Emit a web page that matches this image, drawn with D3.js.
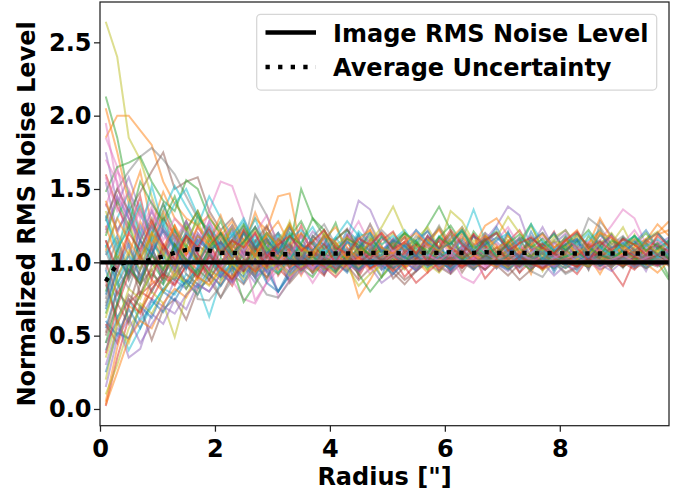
<!DOCTYPE html>
<html>
<head>
<meta charset="utf-8">
<script src="https://cdn.jsdelivr.net/npm/d3@7"></script>
<style>
  body { margin: 0; background: #fff; }
  svg { display: block; font-family: "DejaVu Sans", sans-serif; font-weight: bold; }
</style>
</head>
<body>
<svg class="chart" width="688" height="497"></svg>
<script>
// radii of the annuli (arcsec)
const radius = [0.1, 0.3, 0.5, 0.7, 0.9, 1.1, 1.3, 1.5, 1.7, 1.9,
  2.1, 2.3, 2.5, 2.7, 2.9, 3.1, 3.3, 3.5, 3.7, 3.9,
  4.1, 4.3, 4.5, 4.7, 4.9, 5.1, 5.3, 5.5, 5.7, 5.9,
  6.1, 6.3, 6.5, 6.7, 6.9, 7.1, 7.3, 7.5, 7.7, 7.9,
  8.1, 8.3, 8.5, 8.7, 8.9, 9.1, 9.3, 9.5, 9.7, 9.9]

const noiseLevel = 1.0

const avgUncertainty = [0.87, 0.99, 1.00, 1.00, 1.02, 1.04, 1.065, 1.085, 1.09, 1.08,
  1.065, 1.065, 1.06, 1.055, 1.055, 1.055, 1.055, 1.055, 1.06, 1.06,
  1.06, 1.06, 1.06, 1.065, 1.065, 1.065, 1.06, 1.065, 1.065, 1.065,
  1.07, 1.065, 1.065, 1.07, 1.065, 1.065, 1.065, 1.065, 1.06, 1.065,
  1.06, 1.06, 1.06, 1.06, 1.06, 1.06, 1.06, 1.06, 1.06, 1.06]

// one normalized noise profile per source
const profiles = [
  [0.55,0.82,0.95,0.88,1.12,1.05,0.93,1.18,1.02,0.96,1.14,0.92,1.21,1.03,0.88,1.10,1.26,0.97,1.08,1.17,0.94,1.05,1.19,1.01,0.90,1.12,1.20,0.98,1.07,1.15,0.93,1.04,1.18,1.09,0.96,1.13,1.02,1.21,1.06,0.95,1.10,1.16,1.00,1.08,1.19,0.97,1.05,1.14,1.03,1.11],
  [1.85,2.00,2.00,1.90,1.80,1.55,1.40,1.30,1.25,1.32,1.18,1.28,1.10,1.34,1.15,1.05,1.24,1.12,0.98,1.20,1.02,1.13,1.06,1.22,0.96,1.08,1.17,1.01,1.12,0.94,1.06,1.19,1.03,1.10,0.99,1.15,1.07,0.92,1.13,1.04,1.18,1.00,1.09,1.23,1.05,0.97,1.11,1.16,1.02,1.08],
  [2.13,1.85,1.45,1.20,1.05,1.32,1.10,1.25,0.98,1.15,1.06,1.24,0.92,1.15,1.08,0.99,1.20,1.05,0.93,1.12,1.27,1.04,0.95,1.16,1.09,1.00,1.13,1.06,0.95,1.17,1.09,1.02,1.21,1.11,0.97,1.05,1.14,1.26,1.08,0.99,1.12,1.04,1.18,1.07,0.96,1.10,1.15,1.01,1.06,0.90],
  [0.02,0.35,0.62,0.78,0.85,0.92,0.88,1.02,0.95,1.08,0.98,0.87,1.09,0.96,1.15,0.91,1.03,1.12,0.94,1.06,0.99,1.18,0.90,1.04,1.11,0.97,1.08,1.02,1.16,1.05,0.93,1.10,1.19,0.99,1.07,1.03,1.14,0.96,1.09,1.21,1.04,1.00,1.13,1.06,0.95,0.84,1.02,1.08,1.12,1.05],
  [0.30,0.55,0.48,0.62,0.75,0.70,0.88,0.82,0.95,1.02,0.90,1.08,0.97,0.86,1.05,1.14,0.96,1.10,0.92,1.06,1.00,1.16,1.42,1.36,1.18,1.05,0.98,1.12,1.07,0.95,1.04,1.11,0.99,1.15,1.25,1.38,1.32,1.10,0.98,1.08,1.02,1.14,0.97,1.09,1.04,1.17,1.06,0.94,1.11,1.03],
  [1.40,1.22,1.35,1.48,1.62,1.75,1.50,1.55,1.58,1.35,1.22,1.30,1.15,1.08,1.24,1.12,1.03,1.19,1.09,0.96,1.13,1.06,0.92,1.10,1.04,1.16,0.98,1.07,1.13,1.02,1.09,0.93,1.05,1.12,1.01,1.20,1.06,0.97,1.10,1.03,1.15,1.08,0.95,1.11,1.18,1.02,1.07,0.99,1.14,1.06],
  [1.85,1.65,1.30,1.12,0.98,1.08,1.20,1.05,1.14,1.35,1.55,1.52,1.30,1.10,1.18,1.04,0.94,1.08,1.15,1.02,0.96,1.09,1.03,1.14,0.95,1.06,1.12,1.01,1.18,0.99,1.08,1.14,1.03,0.95,1.10,1.05,1.16,1.02,1.09,0.97,1.13,1.04,1.10,1.15,1.25,1.36,1.30,1.12,1.03,1.09],
  [1.30,1.50,1.62,1.72,1.78,1.70,1.60,1.45,1.30,1.22,1.15,1.25,1.10,1.46,1.32,1.12,1.04,1.20,1.08,0.97,1.13,1.02,0.94,1.09,1.01,1.14,0.97,1.06,1.11,1.00,1.08,0.96,1.04,1.17,1.02,1.09,0.93,1.07,1.12,1.00,1.05,1.10,0.95,1.28,1.18,1.06,0.98,1.13,1.02,1.08],
  [2.64,2.40,1.85,1.70,1.45,1.22,1.10,1.28,1.05,1.15,0.98,1.10,1.22,1.02,1.14,0.94,1.07,1.18,1.00,1.11,1.04,0.95,1.09,1.16,1.01,1.07,0.96,1.14,1.03,1.09,1.20,1.04,0.98,1.12,1.06,1.15,1.01,1.08,0.94,1.10,1.17,1.03,1.07,0.99,1.13,1.05,1.19,1.02,1.09,0.97],
  [0.40,0.62,0.40,0.55,0.70,0.82,0.78,0.92,0.85,0.63,0.88,0.96,1.05,0.90,1.10,0.97,1.14,0.93,1.06,0.99,1.12,0.95,1.03,1.08,0.98,1.04,1.11,1.15,1.02,1.08,0.96,1.13,1.05,1.19,1.01,1.09,0.97,1.06,1.14,1.03,1.10,0.94,1.07,1.12,1.00,1.16,1.04,0.98,1.10,1.05],
  [1.05,1.18,0.92,1.25,1.08,0.86,1.15,0.98,1.20,1.07,0.93,1.12,1.03,0.89,1.10,1.20,0.97,1.05,1.15,0.92,1.08,1.01,1.19,0.96,1.04,1.13,0.99,1.07,1.02,1.16,0.95,1.09,1.12,1.01,1.06,1.21,0.98,1.04,1.10,0.93,1.08,1.15,1.03,1.11,0.97,1.05,1.14,1.08,1.00,1.06],
  [0.05,0.42,0.70,0.66,0.88,0.80,0.95,0.87,1.02,0.92,0.85,1.00,0.94,1.10,0.89,0.98,1.06,0.91,1.08,0.97,0.93,1.03,0.76,0.88,1.02,0.95,1.08,1.01,0.93,1.10,1.15,0.99,1.04,1.12,1.02,0.96,1.07,1.13,1.00,1.05,0.97,1.09,1.04,0.92,1.06,1.11,1.03,0.98,1.08,1.14],
  [1.48,1.65,1.68,1.72,1.55,1.42,1.35,1.56,1.50,1.30,1.20,1.12,1.25,1.08,1.17,1.02,1.10,1.50,1.30,1.18,1.12,1.05,1.14,1.03,1.09,0.99,1.08,1.13,1.04,1.10,1.01,1.07,1.12,1.05,0.97,1.09,1.04,1.16,1.02,1.06,1.11,0.98,1.05,1.14,1.03,1.08,1.00,1.12,1.06,1.10],
  [0.58,0.45,0.72,0.80,0.75,0.90,0.84,0.98,0.88,1.05,0.95,0.84,1.00,0.92,1.08,0.96,0.88,1.04,0.98,0.91,1.07,1.00,0.93,1.05,0.97,1.03,0.90,0.99,1.07,0.94,1.02,0.96,1.05,0.89,0.98,1.04,0.93,1.01,0.97,1.06,0.99,0.92,1.03,0.98,1.08,1.00,0.95,1.04,0.99,1.02],
  [1.75,1.40,1.58,1.35,1.22,1.40,1.15,1.28,1.10,1.20,1.04,1.15,1.22,1.06,0.98,1.12,1.05,1.18,1.00,1.09,1.03,0.96,1.10,1.15,1.02,1.08,1.00,1.12,1.05,1.02,1.09,1.15,1.04,0.99,1.07,1.11,1.03,0.97,1.08,1.05,1.13,1.02,0.96,1.06,1.10,1.01,1.07,1.04,0.99,1.09],
  [0.85,0.62,0.78,0.70,0.47,0.68,0.75,0.61,0.82,0.88,0.76,0.92,0.85,0.97,0.90,1.02,0.86,0.95,1.00,0.92,1.05,0.98,0.88,0.96,1.02,0.93,0.85,0.94,1.01,0.97,0.92,1.00,0.95,1.03,0.98,0.91,0.99,1.04,0.96,1.00,0.93,0.97,1.02,0.95,0.99,1.03,0.96,1.00,0.97,1.01],
  [1.20,1.45,1.10,0.95,1.18,1.02,0.90,1.08,0.97,1.12,1.00,0.88,0.75,0.72,0.86,0.95,1.04,0.92,1.00,0.96,1.07,0.99,0.93,1.05,1.01,0.97,1.08,0.94,1.02,0.98,1.04,0.90,0.86,0.97,1.03,0.99,1.06,1.01,0.96,1.04,1.00,1.07,1.03,0.98,1.05,1.01,0.97,1.04,1.00,1.02],
  [0.70,0.95,0.82,1.05,0.90,1.12,0.98,1.22,1.05,0.93,0.76,0.88,1.00,1.10,0.94,1.06,0.97,1.12,1.01,0.95,1.09,1.02,0.98,1.13,1.03,0.96,1.06,1.10,1.22,1.08,1.00,1.11,1.05,1.14,0.99,1.07,1.03,0.94,0.90,1.01,1.09,0.98,1.12,1.15,1.04,0.96,1.08,1.01,1.10,0.99],
  [0.10,0.30,0.55,0.68,0.80,0.72,0.49,0.78,0.90,0.84,0.95,1.02,0.88,0.97,1.06,0.93,1.00,0.95,1.08,0.99,0.92,1.03,0.97,1.05,0.90,1.01,0.96,1.04,0.99,0.93,1.02,1.06,0.97,1.00,1.05,0.95,1.01,0.98,1.03,0.96,1.04,1.00,0.97,1.02,0.99,1.05,1.01,0.96,1.03,1.00],
  [1.10,1.30,1.48,1.32,1.20,1.35,1.52,1.38,1.25,1.45,1.30,1.18,1.28,1.12,1.05,1.20,1.10,1.02,1.15,1.07,1.00,1.09,1.04,0.97,1.08,1.03,1.12,1.00,1.06,1.02,1.10,1.04,0.99,1.07,1.01,1.05,1.09,1.02,0.98,1.06,1.03,1.08,1.00,1.04,1.07,1.02,0.99,1.05,1.01,1.03],
  [0.95,0.72,1.00,0.85,1.10,0.92,1.02,0.86,0.96,1.08,0.90,1.00,0.94,1.05,0.98,0.80,0.92,1.03,0.96,1.01,0.93,1.06,0.99,1.03,0.95,1.00,1.04,0.97,1.01,1.07,0.98,1.02,0.95,1.03,1.00,0.96,1.05,0.99,1.02,0.97,1.03,1.00,1.06,0.98,1.01,1.04,0.97,1.02,0.99,1.05],
  [2.05,1.75,1.40,1.62,1.25,1.48,1.30,1.22,1.35,1.18,1.10,1.24,1.15,1.30,1.22,1.45,1.47,1.08,1.15,1.04,1.12,1.06,1.00,1.09,1.03,1.07,1.13,1.02,1.05,1.15,1.08,1.04,1.00,1.06,1.10,1.02,1.07,1.03,0.99,1.05,1.08,1.02,1.12,1.30,1.16,1.04,1.06,1.09,1.02,1.05],
  [0.65,0.88,0.60,0.78,0.92,0.85,1.00,0.82,0.95,0.88,1.03,0.97,0.73,0.85,0.98,0.92,1.05,0.96,0.90,1.02,0.99,1.08,0.95,1.03,1.10,1.02,0.98,1.12,1.25,1.38,1.22,1.05,0.98,1.02,0.96,1.04,1.00,0.95,1.03,0.98,1.06,1.01,0.97,1.03,0.99,1.05,1.02,0.96,1.00,0.88],
  [1.60,1.38,1.22,1.45,1.10,1.30,1.18,1.05,1.24,1.12,0.98,1.15,1.06,1.20,1.02,1.10,0.96,1.07,1.13,1.01,1.05,0.98,1.11,1.04,1.08,1.00,1.06,1.02,1.15,1.23,1.10,1.03,1.07,0.99,1.04,1.08,1.01,1.05,1.10,1.03,0.98,1.06,1.02,1.07,1.00,1.04,1.08,1.01,1.05,1.03],
  [0.45,0.60,0.35,0.41,0.65,0.58,0.75,0.68,0.85,0.80,0.92,0.86,0.98,0.90,0.95,1.03,0.88,0.97,1.02,0.93,0.99,0.94,1.04,0.97,0.86,0.92,1.00,0.95,1.03,0.98,0.93,1.01,0.97,1.05,0.99,0.94,1.02,0.96,1.00,0.91,0.98,0.95,1.03,0.99,0.94,1.01,0.97,1.03,0.98,1.00],
  [1.15,0.90,1.05,0.78,0.98,1.10,0.95,1.18,1.02,0.91,1.08,1.00,0.94,1.06,0.99,1.12,1.03,0.96,1.05,0.98,1.02,1.08,0.94,1.00,1.05,0.89,0.97,1.03,1.06,0.99,1.04,0.98,1.01,1.08,1.02,0.97,1.04,1.00,0.95,1.03,0.99,1.06,1.01,0.97,1.02,1.05,0.99,1.03,1.00,1.02],
  [1.95,1.52,1.30,1.18,1.35,1.10,1.25,1.02,1.15,1.08,0.96,1.12,1.05,0.98,1.09,0.76,0.88,1.02,0.95,1.06,1.00,0.97,1.04,0.92,1.03,1.08,0.99,1.05,1.01,0.96,1.04,1.10,1.02,0.98,1.06,1.01,0.97,1.04,1.00,1.07,1.02,0.99,1.05,1.01,0.97,1.03,1.06,1.00,1.04,1.01],
  [0.75,1.10,0.88,1.02,0.80,0.95,1.08,0.92,0.85,1.00,0.93,1.06,0.97,0.90,0.78,0.76,0.87,0.98,1.04,0.96,1.01,0.94,1.07,0.99,1.03,0.96,1.00,1.05,0.98,1.02,0.95,1.03,0.99,1.06,1.00,0.97,1.04,1.01,0.96,1.03,0.98,1.05,1.02,0.97,1.04,1.00,0.98,1.06,1.01,0.99],
  [1.35,1.12,1.28,1.05,1.20,0.95,1.10,1.02,0.90,1.08,1.15,0.98,1.05,0.93,1.10,1.02,1.08,0.96,1.04,1.12,1.00,1.06,0.98,1.03,1.09,1.01,0.95,1.05,1.10,1.24,1.14,1.02,1.06,1.00,1.04,1.08,1.02,0.98,1.05,1.01,1.07,1.03,0.99,1.04,1.08,1.02,1.00,1.05,1.03,0.98],
  [0.90,0.62,0.75,0.60,0.70,0.82,0.90,0.85,0.97,1.05,0.92,1.00,0.95,1.08,0.99,0.93,1.03,1.12,1.06,1.00,1.04,0.98,1.08,1.02,0.97,1.05,1.00,1.06,1.03,0.99,1.07,1.15,1.36,1.15,1.04,0.99,1.05,1.01,1.08,1.03,0.98,1.04,1.00,1.06,1.02,0.97,1.05,1.01,0.99,1.04],
  [0.25,0.52,0.48,0.70,0.62,0.80,0.74,0.88,0.83,0.95,0.90,0.98,0.86,1.02,0.94,0.80,0.91,0.99,1.04,0.95,1.00,0.93,1.06,0.98,1.02,0.96,1.01,0.94,1.03,0.99,0.97,1.05,1.00,0.95,1.02,0.98,1.04,0.99,1.01,0.96,1.03,1.00,0.97,1.05,1.01,0.98,1.02,0.99,1.04,1.00],
  [1.25,1.02,1.20,1.38,1.15,1.05,1.25,1.12,1.00,1.18,1.08,0.95,1.12,1.04,1.16,1.02,1.09,1.00,1.06,0.97,1.10,1.03,1.07,0.99,1.04,1.11,1.02,1.06,1.00,1.08,1.03,0.98,1.05,1.10,1.02,1.06,0.99,1.04,1.07,1.01,1.05,0.98,1.03,1.09,1.02,1.06,1.10,1.15,1.26,1.18],
  [0.80,1.05,0.90,1.15,1.00,0.88,1.12,0.96,1.05,0.92,1.10,1.02,0.98,1.08,1.20,1.12,1.03,0.97,1.06,1.00,0.94,1.03,0.92,0.80,0.90,0.99,1.04,0.96,1.01,1.07,0.99,1.03,0.96,1.05,1.00,1.02,0.97,1.04,0.99,1.06,1.01,0.98,1.03,1.00,1.05,0.97,1.02,0.99,1.04,1.01],
  [1.00,0.78,0.95,0.85,1.05,0.90,1.12,0.97,1.03,0.88,1.00,1.08,0.94,1.02,0.96,1.10,1.01,0.95,1.07,1.00,0.96,1.04,0.99,1.06,1.02,0.94,1.00,1.05,0.98,1.03,0.97,1.08,1.01,1.18,1.12,1.00,0.97,1.04,1.01,1.06,1.00,0.97,1.03,1.07,1.01,1.04,0.98,1.02,1.05,1.00],
  [1.55,1.20,1.38,1.05,1.25,1.12,0.95,1.18,1.06,1.28,1.10,1.22,1.04,1.15,0.99,1.08,1.13,1.02,1.07,0.97,1.05,1.10,1.01,1.06,0.98,1.04,1.09,1.00,1.05,1.02,1.07,0.98,1.03,1.08,1.01,0.96,1.04,1.10,1.02,1.05,0.99,1.03,1.07,1.01,1.04,1.00,1.06,1.02,0.98,1.04],
  [0.50,0.72,0.58,0.85,0.95,0.80,0.92,1.00,0.90,1.06,0.96,0.89,1.02,0.97,1.08,1.00,0.93,1.05,0.98,1.03,0.95,1.00,1.06,0.99,1.02,0.96,0.88,0.94,1.00,1.04,0.98,1.02,0.96,1.05,1.00,0.97,0.88,0.95,1.03,0.99,1.02,0.97,1.04,1.00,0.98,1.03,0.99,1.05,1.01,0.98],
  [1.38,1.62,1.50,1.30,1.42,1.22,1.15,1.05,1.20,1.10,0.98,1.12,1.04,0.74,0.86,1.00,0.90,0.98,0.86,0.98,1.05,0.96,1.02,1.07,0.99,1.04,0.96,1.01,1.06,0.98,1.03,0.99,1.05,1.01,0.96,1.03,1.07,1.00,1.04,0.97,1.02,1.06,1.00,0.95,1.03,0.99,1.05,1.01,1.04,0.98],
  [1.08,0.85,1.00,0.92,0.80,0.95,0.88,1.02,0.75,0.74,0.84,0.95,1.00,0.92,1.04,0.97,1.02,0.94,1.00,1.06,0.98,1.03,0.96,1.01,1.05,0.99,1.03,0.97,1.00,0.94,1.04,1.00,0.96,1.02,0.99,1.05,1.01,0.97,1.03,1.00,0.92,0.96,1.02,0.99,1.04,1.01,0.97,1.03,1.00,1.02],
  [0.35,0.60,0.45,0.72,0.65,0.80,0.92,0.86,0.78,0.95,0.88,0.99,0.92,1.05,0.96,1.00,0.91,0.97,1.03,0.95,1.00,0.97,0.84,0.92,0.98,1.04,0.97,1.01,0.95,1.02,0.99,1.04,0.97,1.00,1.03,0.96,1.01,0.98,1.04,1.00,0.96,1.02,0.99,1.03,0.97,1.01,1.05,0.99,1.02,1.00],
  [1.32,1.05,1.40,1.18,1.52,1.25,1.40,1.50,1.32,1.20,1.12,1.25,1.08,1.18,1.04,1.12,1.20,1.06,1.00,1.09,1.03,1.14,1.07,1.00,1.05,1.10,1.02,1.06,0.99,1.04,1.08,1.01,1.05,1.10,1.03,0.98,1.06,1.02,1.08,1.01,1.04,1.07,1.00,1.03,1.06,1.02,1.09,1.00,1.03,1.05],
  [0.60,0.50,0.68,0.55,0.74,0.66,0.80,0.87,0.78,0.92,0.84,0.97,0.90,1.02,0.86,0.80,0.95,1.00,0.93,1.04,0.97,1.01,0.95,1.03,0.98,0.92,1.00,1.05,0.97,1.01,0.95,1.02,0.98,1.04,0.99,0.95,1.02,0.98,1.03,1.00,0.96,1.01,1.04,0.98,1.02,0.99,1.03,0.97,1.01,1.00],
  [0.03,0.25,0.48,0.60,0.55,0.72,0.82,0.76,0.90,0.85,0.96,0.90,1.02,0.94,0.99,1.05,0.97,1.01,0.93,1.00,1.06,0.98,1.03,0.95,1.01,1.04,0.97,1.00,1.03,0.96,1.02,0.98,1.05,1.00,0.97,1.03,0.99,1.02,0.95,0.99,1.03,1.00,0.97,1.04,1.01,0.98,1.02,0.99,0.93,1.01],
  [1.18,1.42,1.25,1.55,1.40,1.28,1.45,1.22,1.35,1.15,1.28,1.10,1.20,1.05,1.14,1.08,1.02,1.12,1.04,0.98,1.07,1.02,1.10,1.05,0.99,1.06,1.01,1.09,1.03,1.00,1.06,1.02,1.08,1.03,0.99,1.05,1.10,1.02,1.06,1.00,1.04,1.07,1.01,1.05,1.02,1.08,1.03,0.99,1.05,1.02],
  [0.88,0.58,0.75,0.65,0.82,0.92,0.85,0.98,0.90,1.04,0.96,0.88,1.00,0.94,1.06,0.98,1.02,0.95,1.01,0.97,0.90,0.99,1.04,0.96,1.00,1.05,0.97,0.86,0.93,1.00,1.03,0.97,1.01,0.95,1.02,0.98,1.04,0.99,0.96,1.02,1.00,0.97,1.03,0.99,1.01,0.97,1.04,1.00,0.98,1.02],
  [0.15,0.48,0.62,0.45,0.58,0.70,0.65,0.78,0.85,0.80,0.92,0.87,0.96,1.02,0.93,0.98,1.04,0.95,1.00,0.96,1.03,0.99,0.94,1.01,0.97,1.04,1.00,0.95,1.02,0.99,1.05,1.01,0.97,1.03,0.98,1.01,0.96,1.04,1.00,0.97,1.02,0.99,1.04,1.01,0.97,1.03,1.00,0.96,1.02,0.99],
  [1.28,1.50,1.35,1.15,1.30,1.08,1.22,1.00,1.12,1.05,1.18,1.08,0.99,1.10,1.03,1.15,1.06,1.00,1.08,1.02,1.10,1.04,0.98,1.07,1.01,1.05,1.12,1.03,0.98,1.06,1.02,1.08,1.00,1.04,1.10,1.02,1.06,0.99,1.03,1.07,1.01,1.05,1.09,1.02,0.98,1.04,1.07,1.01,1.05,1.03],
  [1.70,1.55,1.20,1.35,1.08,1.22,1.00,1.15,1.05,0.94,1.10,1.02,1.14,0.97,1.06,1.00,1.09,1.03,0.96,1.05,1.01,1.08,0.98,1.04,1.00,1.06,1.02,0.97,1.05,1.01,1.07,0.99,1.03,0.97,1.04,1.00,1.06,1.02,0.98,1.03,1.07,1.00,1.04,0.99,1.02,1.05,1.00,1.03,1.06,1.01],
  [0.72,0.98,1.15,0.90,1.05,0.96,1.10,1.00,0.92,1.06,0.98,1.12,1.02,0.95,1.08,1.01,0.97,1.06,1.00,1.04,0.97,1.02,1.07,0.99,1.03,0.98,1.05,1.00,1.04,0.97,1.02,1.06,0.99,1.03,1.00,1.05,0.98,1.02,1.06,1.00,1.03,0.99,1.04,1.01,0.97,1.03,1.00,1.05,1.02,0.99],
  [0.20,0.58,0.82,0.75,0.95,1.05,0.90,1.12,1.00,1.18,1.08,1.25,1.12,0.98,1.20,1.10,1.28,1.05,1.15,1.22,1.02,1.18,1.09,1.26,1.12,1.20,1.08,1.16,1.24,1.10,1.35,1.28,1.14,1.20,1.07,1.18,1.12,1.25,1.09,1.17,1.22,1.11,1.06,1.19,1.13,1.24,1.08,1.16,1.21,1.10],
  [1.12,0.85,1.05,0.95,1.15,1.02,1.22,1.10,0.98,1.16,1.05,1.20,1.12,1.30,1.08,1.18,1.02,1.14,1.24,1.10,1.17,1.06,1.21,1.13,1.08,1.15,1.22,1.10,1.05,1.18,1.12,1.24,1.08,1.14,1.20,1.06,1.16,1.11,1.02,1.13,1.19,1.09,1.15,1.22,1.07,1.12,1.18,1.10,1.04,1.16],
  [0.68,0.95,1.12,0.88,1.05,1.25,1.10,0.95,1.15,1.08,1.20,1.02,1.14,1.24,1.06,1.16,1.10,0.99,1.18,1.12,1.05,1.22,1.14,1.08,1.17,1.10,1.03,1.15,1.21,1.09,1.14,1.06,1.18,1.12,1.24,1.10,1.04,1.16,1.11,1.20,1.08,1.15,1.02,1.12,1.19,1.07,1.13,1.22,1.10,1.14],
  [1.42,1.20,1.05,1.28,1.12,1.35,1.18,1.06,1.25,1.15,1.32,1.10,1.22,1.05,1.18,1.28,1.12,1.20,1.08,1.16,1.24,1.10,1.02,1.15,1.20,1.12,1.18,1.06,1.14,1.22,1.09,1.17,1.11,1.25,1.30,1.18,1.08,1.14,1.20,1.10,1.16,1.05,1.13,1.21,1.09,1.15,1.12,1.07,1.19,1.22],
  [0.88,1.08,1.25,1.02,1.18,1.40,1.22,1.10,1.32,1.18,1.05,1.15,1.26,1.10,1.20,1.08,1.17,1.28,1.12,1.04,1.16,1.22,1.10,1.18,1.06,1.14,1.20,1.12,1.08,1.17,1.25,1.13,1.06,1.15,1.21,1.10,1.16,1.04,1.12,1.19,1.08,1.14,1.22,1.11,1.06,1.17,1.12,1.20,1.09,1.15],
  [0.38,0.70,0.92,1.05,0.88,1.12,0.98,1.20,1.06,0.95,1.14,1.02,1.22,1.10,0.97,1.16,1.08,1.25,1.04,1.13,0.99,1.18,1.09,1.02,1.15,1.21,1.07,1.12,1.00,1.16,1.10,1.05,1.19,1.11,1.03,1.14,1.22,1.08,1.13,1.06,1.17,1.10,1.01,1.12,1.18,1.09,1.04,1.15,1.11,1.08],
  [1.22,1.45,1.30,1.15,1.35,1.20,1.08,1.28,1.14,1.22,1.10,1.18,1.06,1.24,1.12,1.02,1.17,1.09,1.21,1.14,1.05,1.19,1.11,1.26,1.08,1.16,1.10,1.22,1.13,1.05,1.18,1.12,1.08,1.20,1.14,1.06,1.17,1.11,1.24,1.09,1.15,1.20,1.07,1.13,1.18,1.10,1.16,1.05,1.12,1.17],
  [0.52,0.80,0.70,0.95,1.10,0.92,1.05,1.18,1.00,1.12,1.20,1.08,0.96,1.14,1.25,1.06,1.12,1.02,1.18,1.09,1.15,1.23,1.07,1.12,1.00,1.10,1.17,1.05,1.13,1.08,1.20,1.02,1.11,1.16,1.07,1.12,1.04,1.18,1.09,1.14,1.06,1.19,1.12,1.03,1.10,1.16,1.08,1.13,1.05,1.11],
  [1.58,1.35,1.48,1.22,1.38,1.15,1.30,1.20,1.12,1.28,1.16,1.25,1.08,1.20,1.32,1.12,1.04,1.18,1.10,1.22,1.06,1.15,1.28,1.12,1.19,1.07,1.14,1.22,1.10,1.16,1.05,1.20,1.12,1.08,1.15,1.24,1.11,1.06,1.17,1.12,1.20,1.09,1.14,1.06,1.18,1.13,1.22,1.10,1.15,1.08],
  [0.95,1.15,0.88,1.10,1.25,1.05,1.18,0.98,1.12,1.22,1.08,1.16,1.24,1.04,1.14,1.20,1.10,1.02,1.17,1.26,1.12,1.06,1.18,1.10,1.22,1.14,1.08,1.18,1.12,1.25,1.10,1.16,1.05,1.13,1.20,1.09,1.17,1.12,1.06,1.15,1.22,1.10,1.30,1.24,1.12,1.18,1.08,1.14,1.20,1.11],
  [0.62,0.90,1.08,0.95,1.20,1.06,0.98,1.15,1.28,1.10,1.18,1.02,1.12,1.22,1.08,1.15,1.26,1.10,1.04,1.20,1.12,1.17,1.06,1.14,1.24,1.38,1.20,1.10,1.16,1.08,1.14,1.20,1.11,1.06,1.17,1.31,1.20,1.12,1.08,1.15,1.10,1.18,1.05,1.13,1.20,1.09,1.16,1.12,1.07,1.14],
  [1.30,1.10,1.22,1.40,1.15,1.28,1.08,1.20,1.12,1.25,1.10,1.18,1.30,1.12,1.20,1.08,1.16,1.22,1.14,1.05,1.17,1.28,1.18,1.20,1.12,1.18,1.10,1.22,1.14,1.08,1.16,1.21,1.12,1.06,1.15,1.20,1.10,1.26,1.14,1.08,1.17,1.12,1.20,1.10,1.05,1.13,1.18,1.11,1.16,1.09],
  [0.78,1.02,0.92,1.15,1.05,1.22,1.10,0.96,1.18,1.08,1.14,1.04,1.20,1.10,1.16,1.06,1.24,1.12,1.08,1.18,1.02,1.14,1.10,1.20,1.07,1.15,1.11,1.04,1.18,1.09,1.13,1.22,1.06,1.12,1.17,1.10,1.02,1.14,1.20,1.08,1.12,1.16,1.06,1.19,1.10,1.13,1.05,1.15,1.20,1.12],
  [1.08,1.30,1.15,1.02,1.20,1.10,1.25,1.05,1.18,1.12,1.22,1.08,1.15,1.04,1.20,1.12,1.26,1.10,1.06,1.18,1.14,1.02,1.16,1.22,1.10,1.06,1.14,1.20,1.12,1.08,1.16,1.24,1.12,1.18,1.10,1.14,1.06,1.12,1.19,1.10,1.15,1.22,1.08,1.20,1.17,1.11,1.06,1.14,1.20,1.28],
  [0.45,0.72,0.98,0.85,1.05,0.95,1.12,1.02,0.92,1.10,1.20,1.06,1.14,1.24,1.10,1.02,1.18,1.12,1.30,1.22,1.08,1.16,1.12,1.05,1.18,1.10,1.20,1.14,1.06,1.17,1.12,1.22,1.09,1.15,1.04,1.13,1.19,1.10,1.16,1.07,1.12,1.20,1.10,1.05,1.15,1.11,1.18,1.08,1.13,1.02],
  [1.15,0.95,1.20,1.08,1.28,1.12,1.02,1.18,1.10,1.24,1.06,1.15,1.10,1.20,1.04,1.12,1.18,1.08,1.14,1.22,1.10,1.06,1.16,1.12,1.20,1.09,1.14,1.06,1.18,1.10,1.22,1.12,1.05,1.15,1.20,1.08,1.13,1.17,1.10,1.06,1.15,1.21,1.10,1.14,1.08,1.16,1.12,1.05,1.18,1.11]
]

const xTicks = [0, 2, 4, 6, 8]
const yTicks = [0, 0.5, 1.0, 1.5, 2.0, 2.5]
const legendLabels = ['Image RMS Noise Level', 'Average Uncertainty']

const plot = { left: 100, right: 669, top: 2, bottom: 425.7 }
const fontSize = '24px'

const x = d3.scaleLinear().domain([0, 9.9]).range([plot.left, plot.right])
const y = d3.scaleLinear().domain([-0.114, 2.775]).range([plot.bottom, plot.top])
const color = d3.scaleOrdinal(d3.schemeCategory10)

const chart = d3.select('.chart')

chart.append('defs').append('clipPath').attr('id', 'plot-clip')
  .append('rect')
  .attr('x', plot.left)
  .attr('y', plot.top)
  .attr('width', plot.right - plot.left)
  .attr('height', plot.bottom - plot.top)

const area = chart.append('g').attr('clip-path', 'url(#plot-clip)')

const line = d3.line()
  .x((d, i) => x(radius[i]))
  .y(d => y(d))

area.append('g').attr('class', 'profiles')
  .selectAll('path')
  .data(profiles)
  .enter()
  .append('path')
  .attr('d', line)
  .attr('fill', 'none')
  .attr('stroke', (d, i) => color(i % 10))
  .attr('stroke-width', 2)
  .attr('stroke-opacity', 0.5)

area.append('line')
  .attr('x1', plot.left)
  .attr('x2', plot.right)
  .attr('y1', y(noiseLevel))
  .attr('y2', y(noiseLevel))
  .attr('stroke', '#000')
  .attr('stroke-width', 4.3)

area.append('path')
  .datum(avgUncertainty)
  .attr('d', line)
  .attr('fill', 'none')
  .attr('stroke', '#000')
  .attr('stroke-width', 4.3)
  .attr('stroke-dasharray', '4.3,8.3')

// axes
const xAxis = chart.append('g')
  .attr('transform', `translate(0,${plot.bottom})`)
  .call(d3.axisBottom(x).tickValues(xTicks).tickSize(6).tickPadding(8).tickFormat(d3.format('d')))

const yAxis = chart.append('g')
  .attr('transform', `translate(${plot.left},0)`)
  .call(d3.axisLeft(y).tickValues(yTicks).tickSize(6).tickPadding(2.5).tickFormat(d3.format('.1f')))

for (const axis of [xAxis, yAxis]) {
  axis.select('.domain').remove()
  axis.selectAll('.tick line').attr('stroke', '#222').attr('stroke-width', 1.25)
  axis.selectAll('.tick text')
    .attr('fill', '#000')
    .style('font-family', '"DejaVu Sans", sans-serif')
    .style('font-weight', 'bold')
    .style('font-size', fontSize)
}

chart.append('rect')
  .attr('x', plot.left)
  .attr('y', plot.top)
  .attr('width', plot.right - plot.left)
  .attr('height', plot.bottom - plot.top)
  .attr('fill', 'none')
  .attr('stroke', '#222')
  .attr('stroke-width', 1.25)

chart.append('text')
  .attr('x', (plot.left + plot.right) / 2)
  .attr('y', 485)
  .attr('text-anchor', 'middle')
  .style('font-size', fontSize)
  .text('Radius ["]')

chart.append('text')
  .attr('transform', `translate(35,${(plot.top + plot.bottom) / 2}) rotate(-90)`)
  .attr('text-anchor', 'middle')
  .style('font-size', fontSize)
  .text('Normalized RMS Noise Level')

// legend
const legend = chart.append('g').attr('class', 'legend')

legend.append('rect')
  .attr('x', 256.7)
  .attr('y', 14.3)
  .attr('width', 400)
  .attr('height', 75.7)
  .attr('rx', 4)
  .attr('fill', '#fff')
  .attr('fill-opacity', 0.8)
  .attr('stroke', '#d6d6d6')
  .attr('stroke-width', 1.25)

const entry = legend.selectAll('g.entry')
  .data(legendLabels)
  .enter()
  .append('g')
  .attr('class', 'entry')
  .attr('transform', (d, i) => `translate(0,${41.5 + i * 34.5})`)

entry.append('line')
  .attr('x1', 265.5)
  .attr('x2', 316)
  .attr('y1', -9)
  .attr('y2', -9)
  .attr('stroke', '#000')
  .attr('stroke-width', 4.3)
  .attr('stroke-dasharray', (d, i) => (i === 1 ? '4.3,8.3' : null))

entry.append('text')
  .attr('x', 333)
  .style('font-size', fontSize)
  .text(d => d)
</script>
</body>
</html>
